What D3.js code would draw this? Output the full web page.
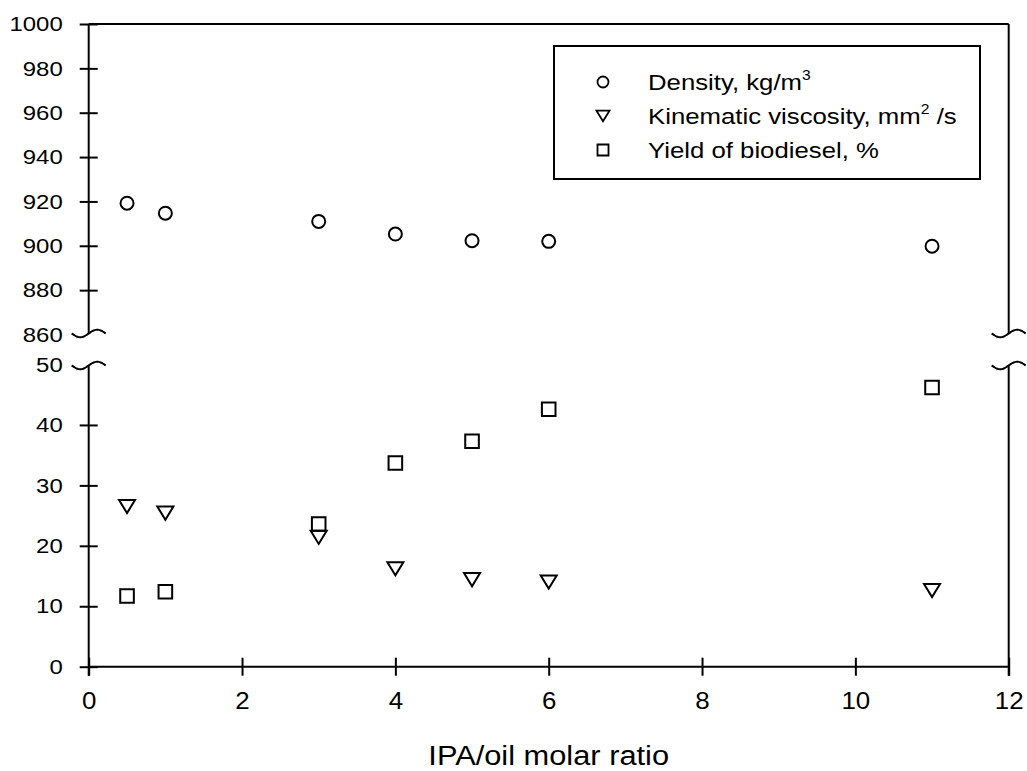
<!DOCTYPE html>
<html>
<head>
<meta charset="utf-8">
<script src="https://cdn.jsdelivr.net/npm/d3@7"></script>
<style>
  body { margin: 0; background: #fff; }
  svg text { font-family: Arial, "Liberation Sans", sans-serif; fill: #000; }
</style>
</head>
<body>
<div id="chart"></div>
<script>
// broken-axis scatter: density on top, viscosity + yield below
// ============================================================

var ratio     = [0.5, 1, 3, 4, 5, 6, 11];                          // IPA/oil molar ratio
var density   = [919.2, 914.7, 911.0, 905.3, 902.3, 902.0, 899.8]; // kg/m3
var viscosity = [26.5, 25.4, 21.4, 16.2, 14.4, 14.0, 12.6];        // mm2/s
var yieldPct  = [11.7, 12.4, 23.6, 33.7, 37.3, 42.6, 46.2];        // %

var xTicks     = [0, 2, 4, 6, 8, 10, 12];
var upperTicks = [860, 880, 900, 920, 940, 960, 980, 1000];
var lowerTicks = [0, 10, 20, 30, 40, 50];

var legendLabels = ["Density, kg/m", "Kinematic viscosity, mm", "Yield of biodiesel, %"];

var width = 1027,
    height = 771;

var svg = d3.select("#chart").append("svg")
    .attr("width", width)
    .attr("height", height);

var x = d3.scaleLinear().domain([0, 12]).range([88.7, 1008.7]);
var yTop = d3.scaleLinear().domain([860, 1000]).range([334.5, 24]);
var yBot = d3.scaleLinear().domain([0, 50]).range([666.7, 364.5]);

var left = x(0), right = x(12);

// stretch text sideways round its own anchor (source fonts are wider)
function stretch(sel, sx) {
  sel.each(function() {
    var t = d3.select(this);
    var tx = +t.attr("x") || 0, ty = +t.attr("y") || 0;
    t.attr("transform", "translate(" + tx + "," + ty + ") scale(" + sx + ",1) translate(" + (-tx) + "," + (-ty) + ")");
  });
}

// y axes
var gTop = svg.append("g").attr("transform", "translate(" + left + ",0)")
    .call(d3.axisLeft(yTop).tickValues(upperTicks).tickFormat(d3.format("d")).tickSize(9).tickPadding(17));
var gBot = svg.append("g").attr("transform", "translate(" + left + ",0)")
    .call(d3.axisLeft(yBot).tickValues(lowerTicks).tickFormat(d3.format("d")).tickSize(9).tickPadding(17));

[gTop, gBot].forEach(function(g) {
  g.select(".domain").remove();
  g.selectAll(".tick line").attr("x1", 9).attr("stroke", "#000").attr("stroke-width", 2)
    .filter(function(d) { return d == 860 || d == 50; }).remove();   // wave instead
  g.selectAll(".tick text").attr("font-size", 21).style("font-family", "Arial, 'Liberation Sans', sans-serif");
  stretch(g.selectAll(".tick text"), 1.14);
});

// x axis
var gx = svg.append("g").attr("transform", "translate(0," + yBot(0) + ")")
    .call(d3.axisBottom(x).tickValues(xTicks).tickSize(9).tickPadding(16));
gx.select(".domain").remove();
gx.selectAll(".tick line").attr("y1", -9).attr("stroke", "#000").attr("stroke-width", 2);
gx.selectAll(".tick text").attr("font-size", 24).style("font-family", "Arial, 'Liberation Sans', sans-serif");
stretch(gx.selectAll(".tick text"), 1.08);

// frame lines
var frame = svg.append("g").attr("stroke", "#000").attr("stroke-width", 2).attr("fill", "none");
frame.append("line").attr("x1", left).attr("x2", right).attr("y1", yTop(1000)).attr("y2", yTop(1000));
frame.append("line").attr("x1", left).attr("x2", right).attr("y1", yBot(0)).attr("y2", yBot(0));
[left, right].forEach(function(ax) {
  frame.append("line").attr("x1", ax).attr("x2", ax).attr("y1", yTop(1000)).attr("y2", yTop(860) - 1);
  frame.append("line").attr("x1", ax).attr("x2", ax).attr("y1", yBot(50) + 1).attr("y2", yBot(0) + 9);
});

// break marks - little sine waves across each axis
function wave(cx, cy) {
  var pts = d3.range(-17, 17.5, 1).map(function(d) {
    return [cx + d, cy - 3.8 * Math.sin(d / 17 * Math.PI)];
  });
  return d3.line().curve(d3.curveBasis)(pts);
}
[left, right].forEach(function(ax) {
  frame.append("path").attr("d", wave(ax, yTop(860) - 1));
  frame.append("path").attr("d", wave(ax, yBot(50) + 1));
});

// markers
function triPath(s) {       // down triangle, s = half width
  var h = s * 0.82;
  return "M" + (-s) + "," + (-h) + "L" + s + "," + (-h) + "L0," + h + "Z";
}
function sqPath(s) {
  return "M" + (-s) + "," + (-s) + "h" + (2 * s) + "v" + (2 * s) + "h" + (-2 * s) + "Z";
}

var marks = svg.append("g").attr("fill", "none").attr("stroke", "#000").attr("stroke-width", 2);

marks.selectAll(".dens")
    .data(ratio)
    .enter().append("circle")
    .attr("class", "dens")
    .attr("cx", function(d) { return x(d); })
    .attr("cy", function(d, i) { return yTop(density[i]); })
    .attr("r", 6.5);

marks.selectAll(".visc")
    .data(ratio)
    .enter().append("path")
    .attr("class", "visc")
    .attr("d", triPath(8))
    .attr("transform", function(d, i) { return "translate(" + x(d) + "," + yBot(viscosity[i]) + ")"; });

marks.selectAll(".yld")
    .data(ratio)
    .enter().append("path")
    .attr("class", "yld")
    .attr("d", sqPath(6.8))
    .attr("transform", function(d, i) { return "translate(" + x(d) + "," + yBot(yieldPct[i]) + ")"; });

// legend
var lg = svg.append("g");
lg.append("rect")
    .attr("x", 554).attr("y", 46).attr("width", 426).attr("height", 133)
    .attr("fill", "#fff").attr("stroke", "#000").attr("stroke-width", 2);

var rowY = [82, 116, 150];
lg.append("circle").attr("cx", 603).attr("cy", rowY[0]).attr("r", 5.5)
    .attr("fill", "none").attr("stroke", "#000").attr("stroke-width", 1.8);
lg.append("path").attr("d", triPath(6.5)).attr("transform", "translate(603," + rowY[1] + ")")
    .attr("fill", "none").attr("stroke", "#000").attr("stroke-width", 1.8);
lg.append("path").attr("d", sqPath(5.5)).attr("transform", "translate(603," + rowY[2] + ")")
    .attr("fill", "none").attr("stroke", "#000").attr("stroke-width", 1.8);

var sups = ["3", "2", null];
var tails = ["", " /s", ""];
legendLabels.forEach(function(lab, i) {
  var t = lg.append("text")
      .attr("x", 648).attr("y", rowY[i] + 8)
      .attr("font-size", 23);
  t.append("tspan").text(lab);
  if (sups[i]) {
    t.append("tspan").attr("font-size", 14).attr("dy", -10).text(sups[i]);
    t.append("tspan").attr("dy", 10).text(tails[i]);
  }
  stretch(t, 1.12);
});

// x title
var title = svg.append("text")
    .attr("x", (left + right) / 2).attr("y", 765)
    .attr("text-anchor", "middle")
    .attr("font-size", 28)
    .text("IPA/oil molar ratio");
stretch(title, 1.1);
</script>
</body>
</html>
